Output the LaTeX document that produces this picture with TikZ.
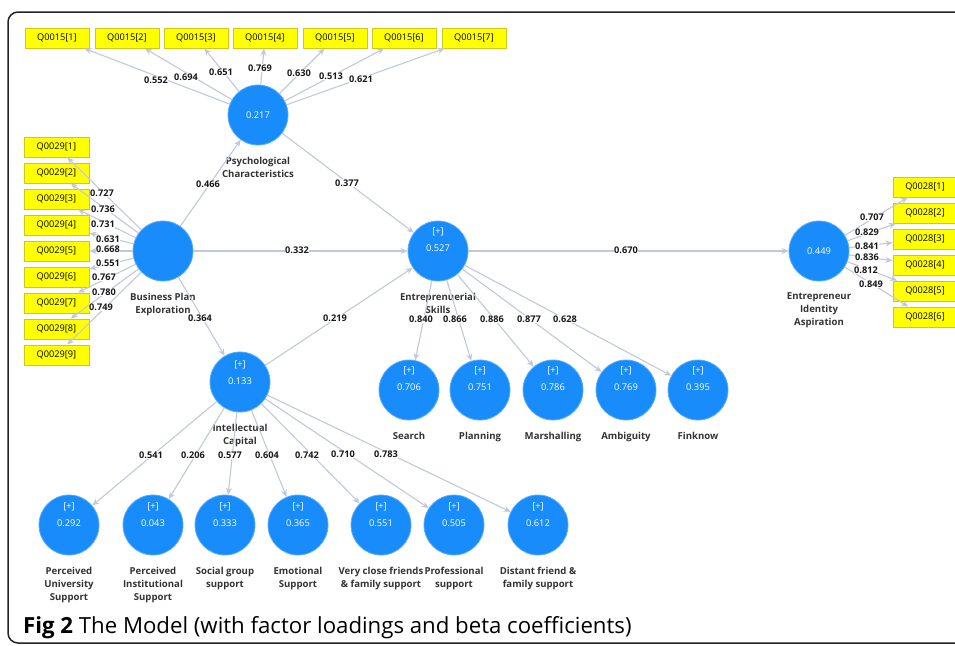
\documentclass[tikz,border=0pt]{standalone}
\usepackage{fontspec}
\setmainfont{Open Sans}
\usetikzlibrary{arrows.meta}
\definecolor{lvblue}{RGB}{24,140,250}
\definecolor{lvedge}{RGB}{90,172,255}
\definecolor{indfill}{RGB}{255,255,0}
\definecolor{indedge}{RGB}{205,200,30}
\definecolor{arrc}{RGB}{192,200,218}
\definecolor{framec}{RGB}{35,35,35}
\begin{document}
\begin{tikzpicture}[x=1pt,y=-1pt,
 ind/.style={rectangle,fill=indfill,draw=indedge,line width=1pt,minimum width=64pt,minimum height=20pt,inner sep=0pt,font=\fontsize{9.2}{10}\selectfont},
 lv/.style={circle,fill=lvblue,draw=lvedge,line width=0.8pt,minimum size=60pt,inner sep=0pt},
 lvtxt/.style={text=white,font=\fontsize{9.3}{10}\selectfont,inner sep=0pt},
 nm/.style={font=\bfseries\fontsize{9.6}{12.8}\selectfont,align=center,text=black!80,inner sep=0pt},
 ld/.style={font=\bfseries\fontsize{9.2}{10}\selectfont,fill=white,inner sep=0.3pt,text=black!90},
 arr/.style={draw=arrc,line width=1.1pt,-{Stealth[length=7pt,width=6pt]}},
]
\useasboundingbox (0,0) rectangle (955,645);
\begin{scope}
\clip (0,0) rectangle (955,645);
\draw[framec,line width=1.5pt,rounded corners=10pt] (8,12) rectangle (990,643);
\end{scope}

% indicators
\foreach \i/\x in {1/57,2/127,3/196,4/265,5/335,6/404,7/474}
  \node[ind] (a\i) at (\x,38) {Q0015[\i]};
\foreach \i/\y in {1/147,2/173,3/199,4/225,5/251,6/277,7/303,8/329,9/355}
  \node[ind,minimum width=65pt] (b\i) at (56.5,\y) {Q0029[\i]};
\foreach \i/\y in {1/187,2/213,3/239,4/265,5/291,6/317}
  \node[ind] (c\i) at (925,\y) {Q0028[\i]};

% latent variables
\node[lv,label={[nm,label distance=11.5pt]below:{Psychological\\Characteristics}}] (pc) at (258,115) {};
\node[lvtxt] (pcv) at (pc.center) {0.217};
\node[lv,label={[nm,label distance=11.5pt]below:{Business Plan\\Exploration}}] (bpe) at (163,251) {};
\node[lv,label={[nm,label distance=11.5pt]below:{Entreprenuerial\\Skills}}] (es) at (438,251) {};
\node[lvtxt] (esv) at ([yshift=3pt]es.center) {0.527};
\node[lvtxt] (esp) at ([yshift=19pt]es.center) {[+]};
\node[lv,label={[nm,label distance=11.5pt]below:{Entrepreneur\\Identity\\Aspiration}}] (eia) at (819,251) {};
\node[lvtxt] (eiav) at (eia.center) {0.449};
\node[lv,label={[nm,label distance=11.5pt]below:{Intellectual\\Capital}}] (ic) at (240,382) {};
\node[lvtxt] (icv) at ([yshift=1pt]ic.center) {0.133};
\node[lvtxt] (icp) at ([yshift=17pt]ic.center) {[+]};

\foreach \n/\x/\v/\t in {srch/409/0.706/Search,plan/480/0.751/Planning,mars/553/0.786/Marshalling,ambi/626/0.769/Ambiguity,fink/698/0.395/Finknow}{
  \node[lv,label={[nm,label distance=11.5pt]below:{\t}}] (\n) at (\x,390) {};
  \node[lvtxt] (\n v) at ([yshift=3pt]\n.center) {\v};
  \node[lvtxt] (\n p) at ([yshift=19pt]\n.center) {[+]};
  \draw[arr] (es) -- (\n);
}
\foreach \n/\x/\v/\t in {pus/69/0.292/{Perceived\\University\\Support},pis/153/0.043/{Perceived\\Institutional\\Support},sgs/225/0.333/{Social group\\support},ems/298/0.365/{Emotional\\Support},vcf/381/0.551/{Very close friends\\\& family support},prs/454/0.505/{Professional\\support},dff/538/0.612/{Distant friend \&\\family support}}{
  \node[lv,label={[nm,label distance=11.5pt]below:{\t}}] (\n) at (\x,525) {};
  \node[lvtxt] (\n v) at ([yshift=2pt]\n.center) {\v};
  \node[lvtxt] (\n p) at ([yshift=18pt]\n.center) {[+]};
  \draw[arr] (ic) -- (\n);
}

% connectors
\foreach \i in {1,...,7} \draw[arr] (pc) -- (a\i);
\foreach \i in {1,...,9} \draw[arr] (bpe) -- (b\i);
\foreach \i in {1,...,6} \draw[arr] (eia) -- (c\i);
\draw[arr] (bpe) -- (pc);
\draw[arr] (bpe) -- (es);
\draw[arr] (bpe) -- (ic);
\draw[arr] (pc) -- (es);
\draw[arr] (ic) -- (es);
\draw[arr] (es) -- (eia);

% loadings / coefficients
\foreach \t/\x/\y [count=\k] in {0.552/156/80,0.694/186/77,0.651/221/72,0.769/260/68,0.630/299/73,0.513/331/76,0.621/361/79,
 0.727/102/193,0.736/103/209,0.731/103/224,0.631/108/239,0.668/108/249,0.551/108/263,0.767/104/277,0.780/104/292,0.749/101/307,
 0.707/872/217,0.829/867/232,0.841/867/246,0.836/867/257,0.812/866/270,0.849/871/284,
 0.466/208/184,0.377/347/183,0.332/297/250,0.670/626/250,0.364/200/318,0.219/335/318,
 0.840/421/319,0.866/455/319,0.886/492/319,0.877/529/319,0.628/565/319,
 0.541/151/455,0.206/193/455,0.577/230/455,0.604/267/455,0.742/307/455,0.710/343/454,0.783/386/454}
  \node[ld] (ld\k) at (\x,\y) {\t};

\node[anchor=west,inner sep=0pt,font=\fontsize{22.2}{24}\selectfont] (cap) at (23,628) {\textbf{Fig 2} The Model (with factor loadings and beta coefficients)};
\end{tikzpicture}
\end{document}
